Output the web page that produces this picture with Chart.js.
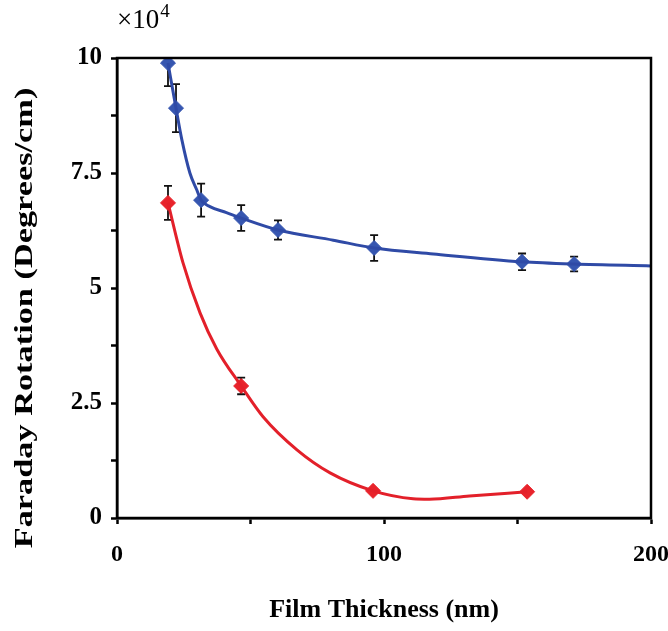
<!DOCTYPE html>
<html>
<head>
<meta charset="utf-8">
<script src="https://cdn.jsdelivr.net/npm/chart.js@4.4.1/dist/chart.umd.min.js"></script>
<style>
  html, body { margin: 0; padding: 0; background: #fff; }
  #wrap { width: 668px; height: 631px; position: relative; }
</style>
</head>
<body>
<div id="wrap"><canvas id="faradayChart"></canvas></div>
<script>
// measured points (x = film thickness in nm, y = rotation x10^4 deg/cm)
const blueX = [19.1, 22.1, 31.5, 46.5, 60.3, 96.3, 151.7, 171.2];
const blueY = [9.89, 8.91, 6.91, 6.52, 6.26, 5.87, 5.57, 5.52];
const blueErr = [0.5, 0.52, 0.36, 0.28, 0.21, 0.28, 0.18, 0.16];

const redX = [19.1, 46.5, 95.9, 153.6];
const redY = [6.85, 2.87, 0.59, 0.57];
const redErr = [0.37, 0.18, 0, 0];

// trend curves
const blueFitX = [19.1, 22.1, 24.3, 27.3, 29.9, 31.5, 34.8, 41, 46.5, 60.3, 81, 96.3, 118.5, 151.7, 171.2, 200];
const blueFitY = [9.89, 8.91, 8.22, 7.5, 7.13, 6.91, 6.77, 6.64, 6.52, 6.26, 6.04, 5.87, 5.74, 5.57, 5.52, 5.48];
const redFitX = [19.1, 24.7, 31.1, 37.4, 46.5, 54.7, 67.4, 79.8, 95.9, 110.9, 117, 132, 153.6];
const redFitY = [6.85, 5.55, 4.46, 3.67, 2.87, 2.2, 1.48, 0.98, 0.59, 0.42, 0.41, 0.48, 0.57];

const xTicks = [0, 100, 200];
const yTicks = [0, 2.5, 5, 7.5, 10];
const yTitle = 'Faraday Rotation (Degrees/cm)';

const blueColor = '#2f4aa6';
const redColor = '#e3202a';

function toPoints(xs, ys) {
    return xs.map((x, i) => ({ x: x, y: ys[i] }));
}

const serif = "'Liberation Serif', 'DejaVu Serif', serif";

// error bars, frame, y title and the x10^4 label
const extras = {
    id: 'extras',
    beforeDatasetsDraw(chart) {
        const ctx = chart.ctx;
        const xs = chart.scales.x;
        const ys = chart.scales.y;
        const area = chart.chartArea;
        ctx.save();
        ctx.beginPath();
        ctx.rect(area.left, area.top, area.right - area.left, area.bottom - area.top);
        ctx.clip();
        ctx.strokeStyle = '#111';
        ctx.lineWidth = 1.8;
        const sets = [[blueX, blueY, blueErr], [redX, redY, redErr]];
        sets.forEach(([px, py, pe]) => {
            px.forEach((x, i) => {
                if (!pe[i]) return;
                const cx = xs.getPixelForValue(x);
                const top = ys.getPixelForValue(py[i] + pe[i]);
                const bot = ys.getPixelForValue(py[i] - pe[i]);
                ctx.beginPath();
                ctx.moveTo(cx, top); ctx.lineTo(cx, bot);
                ctx.moveTo(cx - 4, top); ctx.lineTo(cx + 4, top);
                ctx.moveTo(cx - 4, bot); ctx.lineTo(cx + 4, bot);
                ctx.stroke();
            });
        });
        ctx.restore();
    },
    afterDraw(chart) {
        const ctx = chart.ctx;
        const area = chart.chartArea;
        ctx.save();
        ctx.strokeStyle = '#000';
        ctx.lineWidth = 2.5;
        ctx.strokeRect(area.left, area.top, area.right - area.left, area.bottom - area.top);
        ctx.fillStyle = '#000';
        ctx.textBaseline = 'alphabetic';
        ctx.font = '27px ' + serif;
        ctx.fillText('\u00d710', area.left, 28);
        const w = ctx.measureText('\u00d710').width;
        ctx.font = '19px ' + serif;
        ctx.fillText('4', area.left + w + 1, 17);
        // y title, stretched a bit along its length like the original
        ctx.translate(25, 318);
        ctx.rotate(-Math.PI / 2);
        ctx.scale(1.32, 1);
        ctx.font = 'bold 26px ' + serif;
        ctx.textAlign = 'center';
        ctx.textBaseline = 'middle';
        ctx.fillText(yTitle, 0, 0);
        ctx.restore();
    }
};

new Chart(document.getElementById('faradayChart'), {
    type: 'scatter',
    data: {
        datasets: [{
            label: 'blue fit',
            data: toPoints(blueFitX, blueFitY),
            showLine: true,
            borderColor: blueColor,
            borderWidth: 3,
            pointRadius: 0,
            cubicInterpolationMode: 'monotone',
            fill: false
        }, {
            label: 'red fit',
            data: toPoints(redFitX, redFitY),
            showLine: true,
            borderColor: redColor,
            borderWidth: 3,
            pointRadius: 0,
            cubicInterpolationMode: 'monotone',
            fill: false
        }, {
            label: 'blue',
            data: toPoints(blueX, blueY),
            pointStyle: 'rectRot',
            pointRadius: 7.5,
            backgroundColor: '#3656b0',
            borderColor: '#3656b0',
            borderWidth: 1
        }, {
            label: 'red',
            data: toPoints(redX, redY),
            pointStyle: 'rectRot',
            pointRadius: 7.5,
            backgroundColor: '#e8232b',
            borderColor: '#e8232b',
            borderWidth: 1
        }]
    },
    options: {
        responsive: true,
        maintainAspectRatio: false,
        animation: false,
        layout: { padding: { top: 58, right: 17, left: 0, bottom: 0 } },
        plugins: {
            legend: { display: false },
            tooltip: { enabled: false }
        },
        scales: {
            x: {
                type: 'linear',
                min: 0,
                max: 200,
                afterFit: scale => {
                    scale.height = 113;
                    scale.paddingLeft = 0;
                    scale.paddingRight = 0;
                },
                afterBuildTicks: scale => {
                    scale.ticks = [0, 50, 100, 150, 200].map(v => ({ value: v }));
                },
                ticks: {
                    color: '#000',
                    font: { family: serif, size: 24, weight: 'bold' },
                    padding: 16,
                    maxRotation: 0,
                    callback: v => xTicks.includes(v) ? String(v) : ''
                },
                grid: {
                    drawOnChartArea: false,
                    drawTicks: true,
                    tickLength: 6,
                    tickWidth: 2.5,
                    tickColor: '#000'
                },
                border: { display: true, color: '#000', width: 2.5 },
                title: {
                    display: true,
                    text: 'Film Thickness (nm)',
                    color: '#000',
                    font: { family: serif, size: 26, weight: 'bold' },
                    padding: { top: 0, bottom: 5 }
                }
            },
            y: {
                type: 'linear',
                min: 0,
                max: 10,
                afterFit: scale => {
                    scale.width = 117;
                    scale.paddingTop = 0;
                    scale.paddingBottom = 0;
                },
                afterBuildTicks: scale => {
                    scale.ticks = [0, 1.25, 2.5, 3.75, 5, 6.25, 7.5, 8.75, 10].map(v => ({ value: v }));
                },
                ticks: {
                    color: '#000',
                    font: { family: serif, size: 25, weight: 'bold' },
                    padding: 9,
                    callback: v => yTicks.includes(v) ? String(v) : ''
                },
                grid: {
                    drawOnChartArea: false,
                    drawTicks: true,
                    tickLength: 6,
                    tickWidth: 2.5,
                    tickColor: '#000'
                },
                border: { display: true, color: '#000', width: 2.5 }
            }
        }
    },
    plugins: [extras]
});
</script>
</body>
</html>
